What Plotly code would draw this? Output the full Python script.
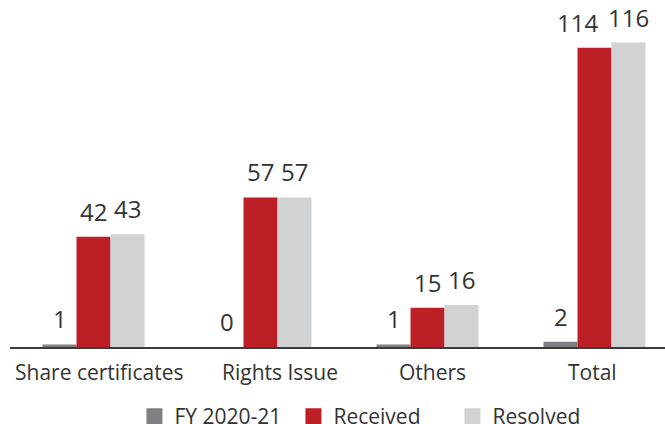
import plotly.graph_objects as go

categories = ["Share certificates", "Rights Issue", "Others", "Total"]
series_names = ["FY 2020-21", "Received", "Resolved"]
fy_2020_21 = [1, 0, 1, 2]
received = [42, 57, 15, 114]
resolved = [43, 57, 16, 116]

colors = ["#808084", "#bc1f26", "#d1d2d4"]
series_values = [fy_2020_21, received, resolved]

FONT = "Open Sans"
TEXT_COLOR = "#333333"
BAR_PX = 34
label_nudge = [6, 19, 5, -2]
value_nudge = {(1, 3): -17}

fig = go.Figure()
for name, vals, col in zip(series_names, series_values, colors):
    fig.add_trace(go.Bar(x=categories, y=vals, name=name, marker_color=col,
                         marker_line_width=0, showlegend=False, legendgroup=name))
for name, col in zip(series_names, colors):
    fig.add_trace(go.Scatter(x=[None], y=[None], mode="markers", name=name,
                             marker=dict(symbol="square", size=18, color=col),
                             legendgroup=name, showlegend=True))

annotations = []
for si, vals in enumerate(series_values):
    for ci, v in enumerate(vals):
        annotations.append(dict(x=categories[ci], y=v, text=str(v), showarrow=False,
                                xshift=(si - 1) * BAR_PX + value_nudge.get((si, ci), 0),
                                yanchor="bottom", yshift=7,
                                font=dict(family=FONT, size=24, color=TEXT_COLOR)))
for ci, c in enumerate(categories):
    annotations.append(dict(x=c, y=0, text=c, showarrow=False, yanchor="top",
                            yshift=-9, xshift=label_nudge[ci],
                            font=dict(family=FONT, size=21, color=TEXT_COLOR)))

fig.update_layout(
    width=665, height=424,
    margin=dict(l=10, r=0, t=0, b=77, autoexpand=False),
    plot_bgcolor="white", paper_bgcolor="white",
    barmode="group", bargap=0.389, bargroupgap=0,
    font=dict(family=FONT, color=TEXT_COLOR),
    xaxis=dict(range=[-0.5, 3.422], showticklabels=False, ticks="", showgrid=False,
               showline=True, linecolor="#3a3a3a", linewidth=1.5, zeroline=False,
               fixedrange=True),
    yaxis=dict(range=[0, 132.2], visible=False, showgrid=False, zeroline=False,
               fixedrange=True),
    legend=dict(orientation="h", x=0.19, xanchor="left", xref="paper",
                y=0.066, yanchor="top", yref="container",
                font=dict(family=FONT, size=21, color=TEXT_COLOR),
                itemwidth=30, entrywidth=114, bgcolor="rgba(0,0,0,0)"),
    annotations=annotations,
)

fig.write_html("out.html", config={"displayModeBar": False},
               post_script="document.body.style.margin='0';")
